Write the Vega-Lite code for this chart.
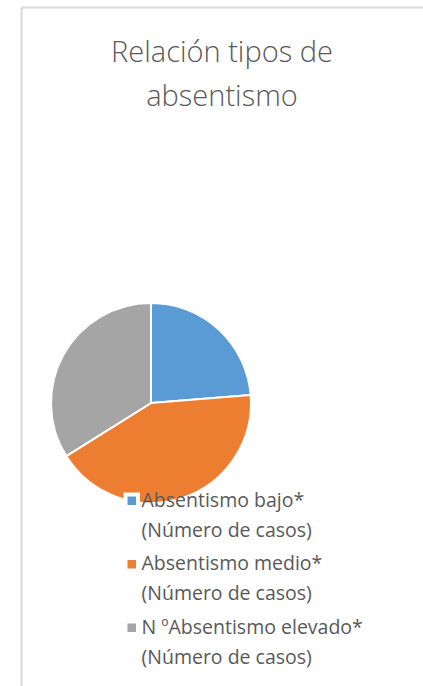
{
  "$schema": "https://vega.github.io/schema/vega-lite/v6.json",
  "width": 402,
  "height": 679,
  "autosize": {"type": "none"},
  "padding": {"left": 21, "top": 7, "right": 0, "bottom": 0},
  "background": "white",
  "title": {
    "text": ["Relación tipos de", "absentismo"],
    "anchor": "middle",
    "frame": "group",
    "font": "Open Sans",
    "fontSize": 29,
    "fontWeight": 300,
    "color": "#595959",
    "lineHeight": 44,
    "baseline": "top",
    "offset": -108
  },
  "data": {
    "values": [
      {"tipo": "Absentismo bajo* (Número de casos)", "casos": 14, "orden": 1},
      {"tipo": "Absentismo medio* (Número de casos)", "casos": 25, "orden": 2},
      {"tipo": "N ºAbsentismo elevado* (Número de casos)", "casos": 20, "orden": 3}
    ]
  },
  "layer": [
    {
      "mark": {"type": "point", "opacity": 0},
      "encoding": {
        "x": {
          "field": "casos",
          "type": "quantitative",
          "axis": {"orient": "top", "domain": true, "domainColor": "#d9d9d9", "domainWidth": 2, "ticks": false, "labels": false, "grid": false, "title": null}
        },
        "y": {
          "field": "orden",
          "type": "quantitative",
          "axis": {"orient": "left", "domain": true, "domainColor": "#d9d9d9", "domainWidth": 2, "ticks": false, "labels": false, "grid": false, "title": null}
        }
      }
    },
    {
      "mark": {"type": "arc", "radius": 100, "stroke": "white", "strokeWidth": 2},
      "encoding": {
        "theta": {"field": "casos", "type": "quantitative", "stack": true},
        "order": {"field": "orden", "type": "quantitative"},
        "x": {"value": 130},
        "y": {"value": 396},
        "color": {
          "field": "tipo",
          "type": "nominal",
          "scale": {
            "domain": ["Absentismo bajo* (Número de casos)", "Absentismo medio* (Número de casos)", "N ºAbsentismo elevado* (Número de casos)"],
            "range": ["#5B9BD5", "#ED7D31", "#A5A5A5"]
          },
          "legend": {
            "title": null,
            "orient": "none",
            "legendX": 101,
            "legendY": 484,
            "direction": "vertical",
            "padding": 0,
            "symbolType": "square",
            "symbolSize": 156,
            "symbolStrokeColor": "white",
            "symbolStrokeWidth": 4,
            "symbolOpacity": 1,
            "labelFont": "Open Sans",
            "labelFontSize": 19.5,
            "labelColor": "#595959",
            "labelOffset": 0,
            "labelLimit": 400,
            "rowPadding": 8.5,
            "labelExpr": "[slice(datum.label, 0, indexof(datum.label, ' (')), slice(datum.label, indexof(datum.label, ' (') + 1)]"
          }
        }
      }
    }
  ],
  "config": {
    "view": {"stroke": null},
    "style": {"guide-label": {"lineHeight": 30}}
  }
}
